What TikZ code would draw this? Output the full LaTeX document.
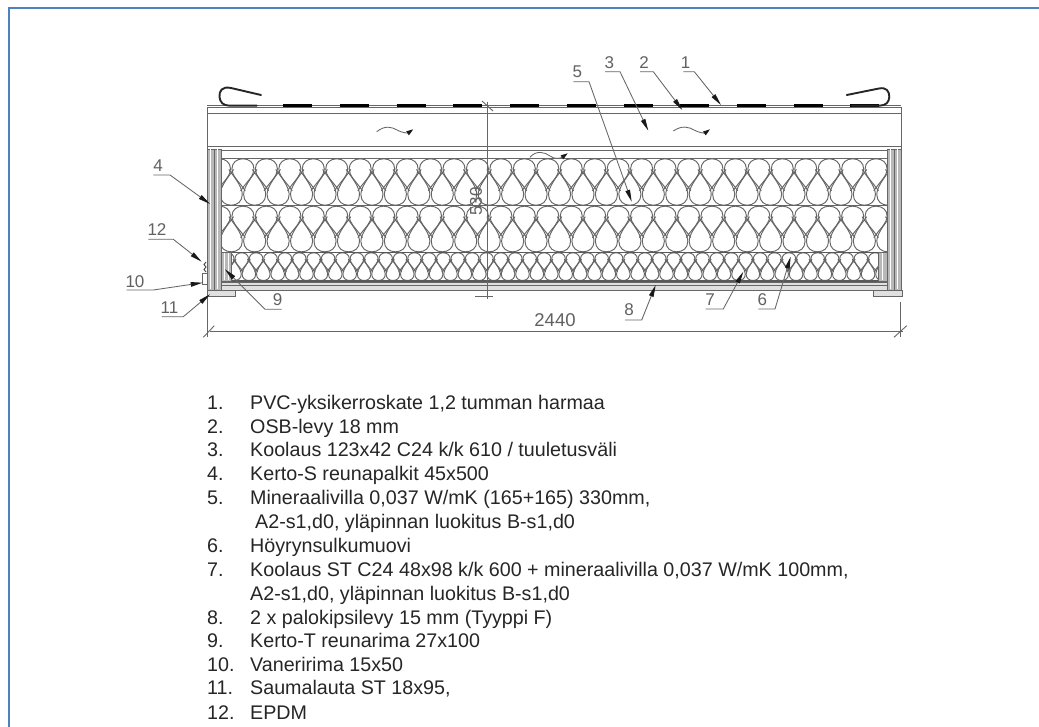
\documentclass[tikz,border=0pt]{standalone}
\usepackage{fontspec}
\setmainfont{Liberation Sans}
\usetikzlibrary{arrows.meta}
\definecolor{frameblue}{HTML}{4F81BD}
\definecolor{cad}{HTML}{666666}
\tikzset{
  cadline/.style={draw=cad,line width=0.9pt},
  wool/.style={draw=cad,line width=0.95pt},
  leader/.style={draw=cad,line width=0.85pt,-{Stealth[length=12pt,width=4.6pt,inset=0pt,black!90]}},
  cadtext/.style={font=\fontsize{17}{17}\selectfont,text=black!62,inner sep=0pt},
  listno/.style={font=\fontsize{19.7}{20}\selectfont,text=black!85,anchor=base west,inner sep=0pt},
  listtext/.style={font=\fontsize{19.7}{20}\selectfont,text=black!85,anchor=base west,inner sep=0pt},
  stripes/.style={fill=black!28,draw=cad,line width=0.7pt},
  flow/.style={draw=cad,line width=0.85pt,-{Stealth[length=7pt,width=4.5pt,inset=0pt,black!90]}}
}
% #1 first centre, #2 last index, #3 pitch, #4 layer top, #5 layer height
\newcommand{\wooldrops}[5]{%
  \foreach \i in {0,...,#2}{%
    \pgfmathsetmacro{\cc}{#1+\i*#3}%
    \pgfmathsetmacro{\dd}{\cc+0.5*#3}%
    \draw[wool] ({\cc-0.1*#3},{#4+0.69*#5}) -- (\cc,{#4+0.62*#5})
      .. controls ({\cc+0.2*#3},{#4+0.48*#5}) and ({\cc+0.47*#3},{#4+0.36*#5}) .. ({\cc+0.47*#3},{#4+0.22*#5})
      .. controls ({\cc+0.47*#3},{#4+0.08*#5}) and ({\cc+0.26*#3},#4) .. (\cc,#4)
      .. controls ({\cc-0.26*#3},#4) and ({\cc-0.47*#3},{#4+0.08*#5}) .. ({\cc-0.47*#3},{#4+0.22*#5})
      .. controls ({\cc-0.47*#3},{#4+0.36*#5}) and ({\cc-0.2*#3},{#4+0.48*#5}) .. (\cc,{#4+0.62*#5})
      -- ({\cc+0.1*#3},{#4+0.69*#5});
    \draw[wool] ({\dd-0.1*#3},{#4+0.23*#5}) -- (\dd,{#4+0.30*#5})
      .. controls ({\dd+0.2*#3},{#4+0.44*#5}) and ({\dd+0.47*#3},{#4+0.62*#5}) .. ({\dd+0.47*#3},{#4+0.77*#5})
      .. controls ({\dd+0.47*#3},{#4+0.92*#5}) and ({\dd+0.26*#3},{#4+#5}) .. (\dd,{#4+#5})
      .. controls ({\dd-0.26*#3},{#4+#5}) and ({\dd-0.47*#3},{#4+0.92*#5}) .. ({\dd-0.47*#3},{#4+0.77*#5})
      .. controls ({\dd-0.47*#3},{#4+0.62*#5}) and ({\dd-0.2*#3},{#4+0.44*#5}) .. (\dd,{#4+0.30*#5})
      -- ({\dd+0.1*#3},{#4+0.23*#5});
  }%
}
\begin{document}
\begin{tikzpicture}[x=1pt,y=-1pt]
\useasboundingbox (0,0) rectangle (1039,727);
\fill[white] (0,0) rectangle (1039,727);
% frame
\draw[frameblue,line width=2pt] (9,727) -- (9,8.5) -- (1039,8.5);
% roof layers
\draw[cadline] (207.3,107.7) rectangle (901,113.3);
\draw[cadline] (207.3,105.6) -- (901,105.6);
\draw[cadline] (207.3,113.3) -- (207.3,149) (901,113.3) -- (901,149);
\draw[cadline] (207.3,146.8) -- (901,146.8);
\draw[cadline] (207.3,150) -- (901,150);
% wool layers
\begin{scope}
\clip (221,158.3) rectangle (887,205.7);
\wooldrops{219.5}{29}{23.45}{158.8}{46.4}
\end{scope}
\begin{scope}
\clip (221,205.7) rectangle (887,252.3);
\wooldrops{219.5}{29}{23.45}{206.2}{45.6}
\end{scope}
\begin{scope}
\clip (231.7,252.3) rectangle (878,281);
\wooldrops{227.3}{45}{14.4}{252.8}{27.7}
\end{scope}
\draw[cadline] (221,158.3) -- (887,158.3);
\draw[cadline] (221,205.7) -- (887,205.7);
\draw[draw=black!65,line width=1.1pt] (221,252.3) -- (887,252.3);
\draw[draw=black!65,line width=1.1pt] (221,281) -- (887,281);
% gypsum
\fill[black!12] (221,282.7) rectangle (887,290);
\draw[cadline] (221,282.8) -- (887,282.8) (221,285.6) -- (887,285.6) (207.3,290) -- (901,290);
% Kerto beams
\draw[stripes] (207.3,149) rectangle (221,290);
\draw[draw=white,line width=1pt] (210.6,149.5) -- (210.6,289.5) (217.6,149.5) -- (217.6,289.5);
\draw[cadline] (214.2,149) -- (214.2,290);
\draw[stripes] (887,149) rectangle (901,290);
\draw[draw=white,line width=1pt] (890.4,149.5) -- (890.4,289.5) (897.4,149.5) -- (897.4,289.5);
\draw[cadline] (894,149) -- (894,290);
% Kerto-T
\draw[stripes] (221,252.3) rectangle (231.7,281);
\draw[draw=white,line width=0.9pt] (224.5,253) -- (224.5,280.5) (228,253) -- (228,280.5);
\draw[stripes] (878,252.3) rectangle (887,281);
\draw[draw=white,line width=0.9pt] (882.5,253) -- (882.5,280.5);
% seam boards
\draw[cadline,fill=black!12] (207.3,290.5) rectangle (235,296);
\draw[cadline,fill=black!12] (873.3,290.5) rectangle (902.3,296);
% plywood + EPDM
\draw[cadline,fill=white] (202.7,273.3) rectangle (207.3,284);
\draw[draw=black!70,line width=1pt] (206,262) -- (204,264.5) -- (206,267) -- (204,269.5) -- (206,272);
% membrane
\draw[black,line width=2.3pt,dash pattern=on 29pt off 27.7pt] (283.3,105.6) -- (883,105.6);
\draw[black!85,line width=1.9pt,line cap=round] (261,95) -- (231,88) .. controls (222,86) and (219,91) .. (219.5,97) .. controls (220,102) and (223,105.6) .. (229,105.6) -- (256.7,105.6);
\draw[black!85,line width=1.9pt,line cap=round] (846.7,95) -- (879,88.5) .. controls (886,87) and (889.5,91) .. (889.3,97) .. controls (889,102) and (886,105.6) .. (880,105.6) -- (851.7,105.6);
% flow arrows
\draw[flow] (376.7,131.7) .. controls (385,125) and (392,127) .. (397,130) .. controls (402,133) and (408,133) .. (413.3,129.3);
\draw[flow] (673.3,131) .. controls (682,125) and (689,127) .. (694,130) .. controls (699,133) and (705,133) .. (710,129.3);
\draw[flow] (530,157.3) .. controls (536,150) and (545,152) .. (550,156) .. controls (555,160) and (561,158) .. (567.7,153.3);
% height dimension
\coordinate (hdt) at (487.7,101.7);
\coordinate (hdb) at (487.7,299.3);
\draw[cadline] (hdt) -- (hdb);
\draw[cadline] (482,101) -- (493,111);
\draw[cadline] (475,296) -- (493.3,296);
\node[rotate=90,font=\fontsize{17}{17}\selectfont,text=black!62,inner sep=0pt] (hdim) at (476,201.5) {530};
% width dimension
\draw[cadline] (210,331.7) -- (903,331.7);
\draw[cadline] (207.3,296) -- (207.3,337.3);
\draw[cadline] (900,301.7) -- (900,337.3);
\draw[cadline] (203.3,337.3) -- (214.3,325.7);
\draw[cadline] (894,337.3) -- (906.7,325.7);
\node[font=\fontsize{18.5}{18.5}\selectfont,text=black!62,inner sep=0pt] (wdim) at (555,320) {2440};
% leaders
\node[cadtext] (n4) at (158,166) {4};
\coordinate (a4) at (153.3,175); \coordinate (b4) at (170,175); \coordinate (c4) at (210,204);
\draw[leader] (a4) -- (b4) -- (c4);
\node[cadtext] (n12) at (157,230) {12};
\coordinate (a12) at (148.3,239.3); \coordinate (b12) at (173.3,239.3); \coordinate (c12) at (201.7,261.7);
\draw[leader] (a12) -- (b12) -- (c12);
\node[cadtext] (n10) at (135,281.5) {10};
\coordinate (a10) at (126.7,290); \coordinate (b10) at (153.3,290); \coordinate (c10) at (202.7,282.7);
\draw[leader] (a10) -- (b10) -- (c10);
\node[cadtext] (n11) at (169.5,307.3) {11};
\coordinate (a11) at (161.7,316.7); \coordinate (b11) at (183.3,316.7); \coordinate (c11) at (210,294.3);
\draw[leader] (a11) -- (b11) -- (c11);
\node[cadtext] (n9) at (277.7,300) {9};
\coordinate (a9) at (281.7,309.3); \coordinate (b9) at (265,309.3); \coordinate (c9) at (225,269.3);
\draw[leader] (a9) -- (b9) -- (c9);
\node[cadtext] (n5) at (577.3,71.7) {5};
\coordinate (a5) at (573.3,81.7); \coordinate (b5) at (589,81.7); \coordinate (c5) at (631.7,201.7);
\draw[leader] (a5) -- (b5) -- (c5);
\node[cadtext] (n3) at (609.3,62.5) {3};
\coordinate (a3) at (605,71.7); \coordinate (b3) at (620,71.7); \coordinate (c3) at (648.3,130.7);
\draw[leader] (a3) -- (b3) -- (c3);
\node[cadtext] (n2) at (644,62.5) {2};
\coordinate (a2) at (640,71.7); \coordinate (b2) at (653.3,71.7); \coordinate (c2) at (682.3,110);
\draw[leader] (a2) -- (b2) -- (c2);
\node[cadtext] (n1) at (685.7,62.5) {1};
\coordinate (a1) at (683.3,71.7); \coordinate (b1) at (694.3,71.7); \coordinate (c1) at (721,105);
\draw[leader] (a1) -- (b1) -- (c1);
\node[cadtext] (n6) at (762.3,300) {6};
\coordinate (a6) at (758.3,309); \coordinate (b6) at (775,309); \coordinate (c6) at (790.7,256.7);
\draw[leader] (a6) -- (b6) -- (c6);
\node[cadtext] (n7) at (710,299.5) {7};
\coordinate (a7) at (705.7,309); \coordinate (b7) at (723.3,309); \coordinate (c7) at (743.3,271.7);
\draw[leader] (a7) -- (b7) -- (c7);
\node[cadtext] (n8) at (629,309.3) {8};
\coordinate (a8) at (625,320); \coordinate (b8) at (641.7,320); \coordinate (c8) at (655.7,285);
\draw[leader] (a8) -- (b8) -- (c8);
% legend
\node[listno] (l1) at (207,409.5) {1.};
\node[listtext] (t1) at (250,409.5) {PVC-yksikerroskate 1,2 tumman harmaa};
\node[listno] (l2) at (207,433) {2.};
\node[listtext] (t2) at (250,433) {OSB-levy 18 mm};
\node[listno] (l3) at (207,456.5) {3.};
\node[listtext] (t3) at (250,456.5) {Koolaus 123x42 C24 k/k 610 / tuuletusväli};
\node[listno] (l4) at (207,480.5) {4.};
\node[listtext] (t4) at (250,480.5) {Kerto-S reunapalkit 45x500};
\node[listno] (l5) at (207,504.5) {5.};
\node[listtext] (t5) at (250,504.5) {Mineraalivilla 0,037 W/mK (165+165) 330mm,};
\node[listtext] (t5b) at (255,528) {A2-s1,d0, yläpinnan luokitus B-s1,d0};
\node[listno] (l6) at (207,552.5) {6.};
\node[listtext] (t6) at (250,552.5) {Höyrynsulkumuovi};
\node[listno] (l7) at (207,576) {7.};
\node[listtext] (t7) at (250,576) {Koolaus ST C24 48x98 k/k 600 + mineraalivilla 0,037 W/mK 100mm,};
\node[listtext] (t7b) at (250,600) {A2-s1,d0, yläpinnan luokitus B-s1,d0};
\node[listno] (l8) at (207,624) {8.};
\node[listtext] (t8) at (250,624) {2 x palokipsilevy 15 mm (Tyyppi F)};
\node[listno] (l9) at (207,647.5) {9.};
\node[listtext] (t9) at (250,647.5) {Kerto-T reunarima 27x100};
\node[listno] (l10) at (207,671) {10.};
\node[listtext] (t10) at (250,671) {Vaneririma 15x50};
\node[listno] (l11) at (207,694.5) {11.};
\node[listtext] (t11) at (250,694.5) {Saumalauta ST 18x95,};
\node[listno] (l12) at (207,719) {12.};
\node[listtext] (t12) at (250,719) {EPDM};
\end{tikzpicture}
\end{document}
